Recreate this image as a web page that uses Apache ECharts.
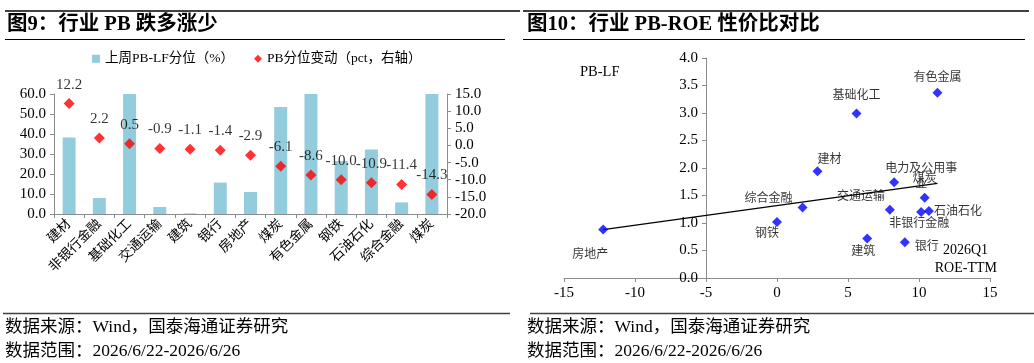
<!DOCTYPE html>
<html>
<head>
<meta charset="utf-8">
<script src="https://cdn.jsdelivr.net/npm/echarts@6/dist/echarts.min.js"></script>
<style>
html,body{margin:0;padding:0;background:#fff;}
#c{width:1034px;height:363px;}
</style>
</head>
<body>
<div id="c"></div>
<script>
// ---- Left chart data ----
const barCategories = ['建材','非银行金融','基础化工','交通运输','建筑','银行','房地产','煤炭','有色金属','钢铁','石油石化','综合金融','煤炭'];
const pbPercentile = [38.3, 8.0, 60.0, 3.5, 0.3, 15.7, 11.0, 53.5, 60.0, 26.5, 32.3, 5.8, 60.0];
const pbChange = [12.2, 2.2, 0.5, -0.9, -1.1, -1.4, -2.9, -6.1, -8.6, -10.0, -10.9, -11.4, -14.3];
const leftTicks = [0, 60, 10];
const rightTicks = [-20, 15, 5];

// ---- Right chart data ----
const industries = ['房地产','钢铁','综合金融','建材','基础化工','建筑','交通运输','电力及公用事业','银行','非银行金融','煤炭','石油石化','有色金属'];
const roeTTM = [-12.24, 0.0, 1.8, 2.85, 5.6, 6.35, 7.95, 8.25, 9.0, 10.15, 10.4, 10.7, 11.3];
const pbLF = [0.88, 1.02, 1.28, 1.94, 2.99, 0.72, 1.24, 1.74, 0.65, 1.2, 1.46, 1.22, 3.37];
const trendX = [-12.24, 11.3];
const trendY = [0.88, 1.72];
const xTicks = [-15, 15, 5];
const yTicks = [0, 4, 0.5];

const FONT = "'Liberation Serif','Noto Sans CJK SC'";
const labelStyle = {
  '房地产': {offset:[-13,25]},
  '钢铁': {offset:[-10,12]},
  '综合金融': {offset:[-34,-9]},
  '建材': {offset:[12,-11]},
  '基础化工': {offset:[0,-18]},
  '建筑': {offset:[-4,13]},
  '交通运输': {offset:[-29,-13]},
  '电力及公用事业': {offset:[27,-5], text:'电力及公用事\n业'},
  '银行': {offset:[22,5]},
  '非银行金融': {offset:[-2,12]},
  '煤炭': {offset:[0,-19]},
  '石油石化': {offset:[29,1]},
  '有色金属': {offset:[0,-15]}
};

const scatterData = industries.map((n,i)=>{
  const ls = labelStyle[n] || {offset:[0,-14]};
  return {
    name:n, value:[roeTTM[i], pbLF[i]],
    label:{show:true, position:'inside', offset:ls.offset, formatter: ls.text || n}
  };
});

const axisGray = '#8c8c8c';
const chart = echarts.init(document.getElementById('c'), null, {renderer:'canvas'});

const option = {
  animation:false,
  backgroundColor:'#fff',
  textStyle:{fontFamily:FONT, color:'#000'},
  legend:{
    left:87, top:47, itemWidth:8, itemHeight:8, itemGap:20,
    textStyle:{fontFamily:FONT, fontSize:13.5, color:'#000'},
    data:[{name:'上周PB-LF分位（%）', icon:'rect'},{name:'PB分位变动（pct，右轴）', icon:'diamond'}]
  },
  grid:[
    {left:54, right:587, top:94, bottom:149},
    {left:564, right:44, top:58, bottom:85}
  ],
  xAxis:[
    {
      type:'category', gridIndex:0, data:barCategories,
      axisLine:{lineStyle:{color:axisGray}},
      axisTick:{show:true, length:4, lineStyle:{color:axisGray}},
      axisLabel:{rotate:45, interval:0, fontSize:13.5, color:'#000', fontFamily:FONT, margin:8}
    },
    {
      type:'value', gridIndex:1, min:xTicks[0], max:xTicks[1], interval:xTicks[2],
      splitLine:{show:false},
      axisLine:{lineStyle:{color:axisGray}},
      axisTick:{show:true, length:4, lineStyle:{color:axisGray}},
      axisLabel:{fontSize:15, color:'#000', fontFamily:FONT, margin:8}
    }
  ],
  yAxis:[
    {
      type:'value', gridIndex:0, min:leftTicks[0], max:leftTicks[1], interval:leftTicks[2],
      splitLine:{show:false},
      axisLine:{show:true, lineStyle:{color:axisGray}},
      axisTick:{show:true, length:4, lineStyle:{color:axisGray}},
      axisLabel:{fontSize:15, color:'#000', fontFamily:FONT, margin:8, formatter:v=>v.toFixed(1)}
    },
    {
      type:'value', gridIndex:0, position:'right', min:rightTicks[0], max:rightTicks[1], interval:rightTicks[2],
      splitLine:{show:false},
      axisLine:{show:true, lineStyle:{color:axisGray}},
      axisTick:{show:true, length:4, lineStyle:{color:axisGray}},
      axisLabel:{fontSize:15, color:'#000', fontFamily:FONT, margin:8, formatter:v=>v.toFixed(1)}
    },
    {
      type:'value', gridIndex:1, position:'left', offset:-142, min:yTicks[0], max:yTicks[1], interval:yTicks[2],
      splitLine:{show:false},
      axisLine:{show:true, onZero:false, lineStyle:{color:axisGray}},
      axisTick:{show:true, length:4, lineStyle:{color:axisGray}},
      axisLabel:{fontSize:15, color:'#000', fontFamily:FONT, margin:8, formatter:v=>v.toFixed(1)}
    }
  ],
  series:[
    {
      name:'上周PB-LF分位（%）', type:'bar', xAxisIndex:0, yAxisIndex:0,
      data:pbPercentile, barWidth:13,
      itemStyle:{color:'#93CDDD'}
    },
    {
      name:'PB分位变动（pct，右轴）', type:'scatter', xAxisIndex:0, yAxisIndex:1,
      data:pbChange, symbol:'diamond', symbolSize:11, z:5,
      itemStyle:{color:'#FF0000'},
      label:{show:true, position:'top', distance:6, fontSize:15, color:'#000', fontFamily:FONT, formatter:p=>p.value.toFixed(1)}
    },
    {
      name:'trend', type:'line', xAxisIndex:1, yAxisIndex:2,
      data:trendX.map((x,i)=>[x, trendY[i]]), symbol:'none',
      lineStyle:{color:'#000', width:1.2}, z:2
    },
    {
      name:'PB-ROE', type:'scatter', xAxisIndex:1, yAxisIndex:2,
      data:scatterData, symbol:'diamond', symbolSize:10, z:5,
      itemStyle:{color:'#0000FF'},
      label:{fontSize:12, color:'#000', fontFamily:FONT, lineHeight:16, align:'center'}
    }
  ],
  graphic:[
    {type:'line', shape:{x1:5, y1:11, x2:520, y2:11}, style:{stroke:'#404040', lineWidth:2}},
    {type:'line', shape:{x1:5, y1:39.5, x2:505, y2:39.5}, style:{stroke:'#000', lineWidth:1}},
    {type:'text', x:7, y:25, style:{text:'图9：行业 PB 跌多涨少', font:"bold 20.5px "+FONT, fill:'#000', verticalAlign:'middle'}},
    {type:'line', shape:{x1:523, y1:11, x2:1029, y2:11}, style:{stroke:'#404040', lineWidth:2}},
    {type:'line', shape:{x1:523, y1:39.5, x2:1025, y2:39.5}, style:{stroke:'#000', lineWidth:1}},
    {type:'text', x:527, y:25, style:{text:'图10：行业 PB-ROE 性价比对比', font:"bold 20.5px "+FONT, fill:'#000', verticalAlign:'middle'}},
    {type:'text', x:580, y:72, style:{text:'PB-LF', font:"14.5px "+FONT, fill:'#000', verticalAlign:'middle'}},
    {type:'text', x:988, y:250, style:{text:'2026Q1', font:"14px "+FONT, fill:'#000', align:'right', verticalAlign:'middle'}},
    {type:'text', x:997, y:268, style:{text:'ROE-TTM', font:"14px "+FONT, fill:'#000', align:'right', verticalAlign:'middle'}},
    {type:'line', shape:{x1:3, y1:313.5, x2:510, y2:313.5}, style:{stroke:'#404040', lineWidth:1.5}},
    {type:'line', shape:{x1:530, y1:313.5, x2:1034, y2:313.5}, style:{stroke:'#404040', lineWidth:1.5}},
    {type:'text', x:5, y:327, style:{text:'数据来源：Wind，国泰海通证券研究', font:"17.5px "+FONT, fill:'#000', verticalAlign:'middle'}},
    {type:'text', x:5, y:351, style:{text:'数据范围：2026/6/22-2026/6/26', font:"17.5px "+FONT, fill:'#000', verticalAlign:'middle'}},
    {type:'text', x:527, y:327, style:{text:'数据来源：Wind，国泰海通证券研究', font:"17.5px "+FONT, fill:'#000', verticalAlign:'middle'}},
    {type:'text', x:527, y:351, style:{text:'数据范围：2026/6/22-2026/6/26', font:"17.5px "+FONT, fill:'#000', verticalAlign:'middle'}}
  ]
};
chart.setOption(option);
</script>
</body>
</html>
